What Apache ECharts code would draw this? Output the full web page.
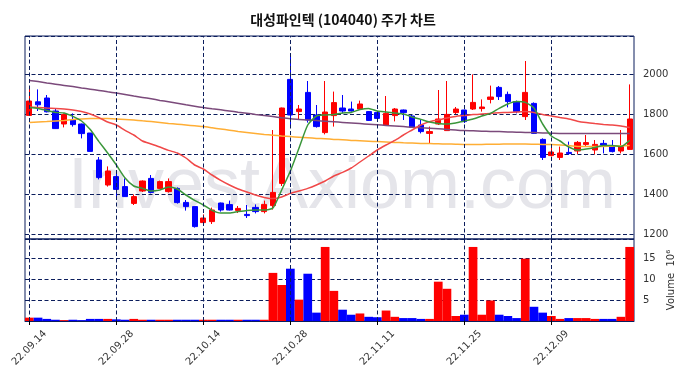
<!DOCTYPE html>
<html>
<head>
<meta charset="utf-8">
<script src="https://cdn.jsdelivr.net/npm/echarts@6/dist/echarts.min.js"></script>
<style>
  html, body { margin: 0; padding: 0; background: #fff; }
  #chart { width: 686px; height: 378px; }
</style>
</head>
<body>
<div id="chart"></div>
<script>
// trading days shown on the chart
var dates = [
  '22.09.14','22.09.15','22.09.16','22.09.19','22.09.20','22.09.21','22.09.22','22.09.23','22.09.26','22.09.27',
  '22.09.28','22.09.29','22.09.30','22.10.04','22.10.05','22.10.06','22.10.07','22.10.11','22.10.12','22.10.13',
  '22.10.14','22.10.17','22.10.18','22.10.19','22.10.20','22.10.21','22.10.24','22.10.25','22.10.26','22.10.27',
  '22.10.28','22.10.31','22.11.01','22.11.02','22.11.03','22.11.04','22.11.07','22.11.08','22.11.09','22.11.10',
  '22.11.11','22.11.14','22.11.15','22.11.16','22.11.17','22.11.18','22.11.21','22.11.22','22.11.23','22.11.24',
  '22.11.25','22.11.28','22.11.29','22.11.30','22.12.01','22.12.02','22.12.05','22.12.06','22.12.07','22.12.08',
  '22.12.09','22.12.12','22.12.13','22.12.14','22.12.15','22.12.16','22.12.19','22.12.20','22.12.21','22.12.22'
];
var openP = [1793,1861,1880,1815,1750,1770,1750,1705,1570,1445, 1487,1437,1353,1415,1478,1428,1412,1428,1358,1337,
  1257,1262,1355,1347,1318,1298,1333,1312,1342,1453, 1973,1812,1908,1795,1707,1792,1830,1825,1825,1812,
  1807,1745,1792,1820,1790,1745,1703,1750,1717,1807, 1820,1825,1827,1873,1933,1898,1862,1787,1853,1673,
  1592,1583,1608,1615,1648,1620,1653,1637,1615,1623];
var closeP = [1865,1846,1811,1727,1797,1747,1702,1613,1482,1515, 1423,1387,1387,1465,1408,1462,1462,1357,1337,1237,
  1280,1320,1320,1320,1328,1292,1312,1348,1408,1830, 1795,1825,1770,1737,1810,1857,1815,1815,1850,1768,
  1778,1803,1825,1807,1733,1712,1712,1775,1798,1825, 1762,1858,1835,1885,1887,1862,1812,1908,1703,1583,
  1610,1605,1602,1658,1657,1648,1645,1612,1637,1775];
var lowP = [1791,1815,1808,1725,1733,1737,1678,1613,1473,1437, 1390,1385,1345,1410,1403,1425,1407,1352,1317,1232,
  1250,1250,1312,1318,1305,1280,1303,1303,1322,1440, 1737,1773,1757,1732,1698,1737,1803,1812,1820,1765,
  1763,1745,1763,1770,1730,1703,1653,1745,1717,1800, 1755,1820,1812,1853,1870,1833,1803,1770,1700,1570,
  1587,1570,1595,1600,1637,1598,1603,1608,1603,1623];
var highP = [1936,1923,1895,1830,1803,1803,1752,1705,1585,1538, 1520,1478,1398,1468,1495,1467,1478,1433,1370,1337,
  1298,1332,1357,1367,1340,1345,1348,1367,1720,1832, 2095,1845,1965,1845,1965,1912,1895,1862,1867,1815,
  1812,1890,1830,1822,1795,1773,1737,1920,1965,1835, 1822,1998,1873,1942,1940,1912,1867,2065,1858,1678,
  1645,1637,1662,1665,1695,1670,1670,1670,1720,1948];
// volume, millions of shares
var volume = [0.8,0.8,0.5,0.3,0.2,0.3,0.2,0.5,0.5,0.5, 0.4,0.3,0.5,0.3,0.3,0.3,0.3,0.3,0.3,0.3,
  0.3,0.3,0.3,0.3,0.3,0.3,0.3,0.3,11.5,8.6, 12.5,5.1,11.3,2.0,17.7,7.2,2.7,1.5,1.8,1.0,
  0.9,2.5,1.0,0.7,0.7,0.5,0.5,9.4,7.7,1.2, 1.5,17.7,1.5,4.9,1.5,1.2,0.7,14.9,3.4,2.0,
  1.2,0.5,0.7,0.7,0.7,0.5,0.5,0.5,1.0,17.7];
// moving averages
var ma5 = [1832,1828,1818,1808,1805,1788,1765,1722,1662,1605, 1545,1480,1440,1428,1415,1420,1435,1425,1395,1368,
  1345,1318,1305,1305,1312,1318,1320,1320,1330,1420, 1515,1630,1745,1790,1795,1798,1805,1808,1822,1828,
  1815,1810,1805,1800,1785,1773,1760,1753,1750,1755, 1765,1775,1790,1803,1828,1850,1862,1858,1830,1750,
  1690,1665,1635,1620,1625,1633,1643,1643,1637,1668];
var ma20 = [1835,1833,1830,1828,1825,1820,1812,1800,1782,1760, 1745,1718,1695,1665,1650,1635,1618,1605,1580,1545,
  1525,1495,1468,1445,1425,1410,1395,1383,1377,1385, 1403,1415,1428,1445,1465,1490,1508,1530,1560,1590,
  1620,1645,1668,1695,1720,1745,1762,1770,1780,1788, 1792,1797,1800,1803,1806,1808,1810,1812,1808,1798,
  1790,1782,1775,1764,1757,1752,1748,1745,1740,1732];
var ma60 = [1758,1760,1762,1765,1768,1772,1775,1777,1778,1777, 1775,1773,1770,1766,1762,1758,1753,1749,1745,1741,
  1737,1731,1725,1719,1713,1708,1703,1698,1694,1690, 1687,1684,1681,1678,1676,1673,1671,1668,1666,1664,
  1662,1660,1658,1656,1655,1653,1652,1651,1650,1649, 1648,1648,1648,1649,1649,1650,1650,1650,1649,1648,
  1647,1645,1642,1638,1637,1637,1638,1639,1641,1642];
var ma120 = [1968,1962,1955,1949,1943,1937,1930,1924,1918,1911, 1905,1898,1890,1883,1876,1868,1861,1854,1846,1839,
  1832,1826,1821,1815,1809,1804,1798,1793,1787,1781, 1776,1773,1770,1767,1764,1761,1758,1755,1752,1749,
  1746,1743,1740,1737,1734,1731,1729,1726,1723,1720, 1717,1716,1714,1713,1712,1710,1709,1708,1707,1705,
  1704,1703,1703,1703,1703,1703,1703,1703,1703,1703];
var markDates = ['22.09.14','22.09.28','22.10.14','22.10.28','22.11.11','22.11.25','22.12.09'];

var UP = '#ff0000', DOWN = '#0000ff', NAVY = '#0b1d5c';

var chart = echarts.init(document.getElementById('chart'));

var candles = [];
for (var i = 0; i < dates.length; i++) {
  candles.push([openP[i], closeP[i], lowP[i], highP[i]]);
}
var vLines = markDates.map(function (d) { return { xAxis: d }; });
var dashed = { color: NAVY, width: 1, type: [4, 2.5] };

function maLine(name, data, color) {
  return {
    name: name, type: 'line', data: data, xAxisIndex: 0, yAxisIndex: 0,
    symbol: 'none', smooth: 0.2, z: 4, silent: true,
    lineStyle: { color: color, width: 1.5 }
  };
}

var option = {
  animation: false,
  backgroundColor: '#fff',
  title: {
    text: '대성파인텍 (104040) 주가 차트',
    left: 'center', top: 8,
    textStyle: { fontFamily: 'Noto Sans CJK KR', fontWeight: 'bold', fontSize: 14, color: '#111' }
  },
  graphic: [{
    type: 'text', z: -1, silent: true,
    style: {
      text: 'InvestAxiom.com', x: 342, y: 188,
      textAlign: 'center', textVerticalAlign: 'middle',
      fill: '#e5e5ea', font: '72px "Liberation Sans"'
    }
  }],
  grid: [
    { left: 25, right: 52, top: 36, height: 203, show: true, borderColor: NAVY, borderWidth: 1 },
    { left: 25, right: 52, top: 239, height: 82, show: true, borderColor: NAVY, borderWidth: 1 }
  ],
  xAxis: [
    { type: 'category', data: dates, gridIndex: 0, boundaryGap: true,
      axisLine: { show: false }, axisTick: { show: false }, axisLabel: { show: false }, splitLine: { show: false } },
    { type: 'category', data: dates, gridIndex: 1, boundaryGap: true,
      axisLine: { show: true, lineStyle: { color: NAVY } },
      axisTick: { show: true, interval: 9, alignWithLabel: true, length: 4, lineStyle: { color: '#000' } },
      axisLabel: { interval: 9, rotate: 45, margin: 27, align: 'center', verticalAlign: 'middle',
        fontFamily: 'DejaVu Sans', fontSize: 10, color: '#333' },
      splitLine: { show: false } }
  ],
  yAxis: [
    { type: 'value', gridIndex: 0, position: 'right', min: 1175, max: 2190, splitNumber: 5,
      axisLine: { show: false }, axisTick: { show: false },
      axisLabel: { margin: 9, fontFamily: 'DejaVu Sans', fontSize: 10, color: '#333',
        formatter: function (v) { return v % 200 === 0 ? String(v) : ''; } },
      splitLine: { show: true, lineStyle: dashed } },
    { type: 'value', gridIndex: 1, position: 'right', min: 0, max: 19.6, interval: 5,
      axisLine: { show: false }, axisTick: { show: false },
      axisLabel: { margin: 9, fontFamily: 'DejaVu Sans', fontSize: 10, color: '#333',
        formatter: function (v) { return (v > 0 && v % 5 === 0) ? String(v) : ''; } },
      splitLine: { show: true, lineStyle: dashed },
      name: 'Volume  10\u2076', nameLocation: 'middle', nameRotate: 90, nameGap: 31,
      nameTextStyle: { fontFamily: 'DejaVu Sans', fontSize: 10, color: '#333' } }
  ],
  series: [
    {
      name: 'price', type: 'candlestick', data: candles, xAxisIndex: 0, yAxisIndex: 0,
      barWidth: '65%', z: 3, silent: true,
      itemStyle: { color: UP, color0: DOWN, borderColor: UP, borderColor0: DOWN, borderWidth: 1 },
      markLine: { silent: true, symbol: ['none', 'none'], label: { show: false },
        lineStyle: dashed, data: vLines, animation: false }
    },
    maLine('MA120', ma120, '#7b4a7b'),
    maLine('MA60', ma60, '#ffae35'),
    maLine('MA20', ma20, '#f04848'),
    maLine('MA5', ma5, '#3a963a'),
    {
      name: 'volume', type: 'bar', data: volume, xAxisIndex: 1, yAxisIndex: 1,
      barWidth: '100%', silent: true, z: 3,
      itemStyle: {
        color: function (p) { return closeP[p.dataIndex] >= openP[p.dataIndex] ? UP : DOWN; }
      }
    },
    {
      // carries the vertical date lines of the volume panel
      name: 'vgrid', type: 'line', data: volume, xAxisIndex: 1, yAxisIndex: 1,
      symbol: 'none', silent: true, z: 2, lineStyle: { opacity: 0 },
      markLine: { silent: true, symbol: ['none', 'none'], label: { show: false },
        lineStyle: dashed, data: vLines, animation: false }
    }
  ]
};

chart.setOption(option);
</script>
</body>
</html>
